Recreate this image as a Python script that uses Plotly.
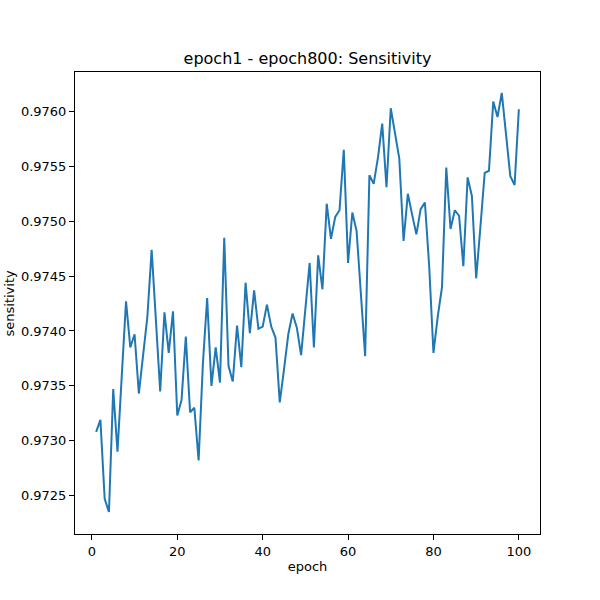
import plotly.graph_objects as go

# sensitivity per epoch
epochs = list(range(1, 101))
sensitivity = [
    0.97308, 0.97319, 0.97247, 0.97235, 0.97347, 0.97290, 0.97359, 0.97427, 0.97385, 0.97397,
    0.97343, 0.97377, 0.97413, 0.97474, 0.97412, 0.97345, 0.97417, 0.97380, 0.97418, 0.97323,
    0.97337, 0.97395, 0.97326, 0.97330, 0.97282, 0.97370, 0.97430, 0.97350, 0.97385, 0.97353,
    0.97485, 0.97368, 0.97354, 0.97405, 0.97367, 0.97444, 0.97398, 0.97437, 0.97402, 0.97404,
    0.97424, 0.97404, 0.97394, 0.97335, 0.97365, 0.97397, 0.97416, 0.97403, 0.97378, 0.97422,
    0.97462, 0.97385, 0.97469, 0.97438, 0.97516, 0.97484, 0.97504, 0.97510, 0.97565, 0.97462,
    0.97508, 0.97491, 0.97432, 0.97377, 0.97542, 0.97534, 0.97558, 0.97589, 0.97531, 0.97603,
    0.97580, 0.97557, 0.97482, 0.97525, 0.97506, 0.97488, 0.97511, 0.97517, 0.97459, 0.97380,
    0.97413, 0.97440, 0.97549, 0.97493, 0.97510, 0.97505, 0.97459, 0.97540, 0.97523, 0.97448,
    0.97495, 0.97544, 0.97546, 0.97609, 0.97595, 0.97617, 0.97579, 0.97541, 0.97533, 0.97602,
]

x_ticks = [0, 20, 40, 60, 80, 100]
y_ticks = [0.9725, 0.9730, 0.9735, 0.9740, 0.9745, 0.9750, 0.9755, 0.9760]

fig = go.Figure()
fig.add_trace(go.Scatter(
    x=epochs,
    y=sensitivity,
    mode='lines',
    line=dict(color='#1f77b4', width=2),
))

axis_style = dict(
    showline=True,
    linecolor='black',
    linewidth=1,
    mirror=True,
    ticks='outside',
    ticklen=5,
    tickwidth=1,
    tickcolor='black',
    showgrid=False,
    zeroline=False,
    automargin=False,
    tickfont=dict(size=13, color='black'),
)

fig.update_layout(
    width=600,
    height=600,
    margin=dict(l=75, r=60, t=72, b=66),
    paper_bgcolor='white',
    plot_bgcolor='white',
    font=dict(family='DejaVu Sans', color='black'),
    showlegend=False,
    title=dict(
        text='epoch1 - epoch800: Sensitivity',
        x=0.5, xref='paper', xanchor='center',
        y=1, yref='paper', yanchor='bottom',
        pad=dict(b=8),
        automargin=False,
        font=dict(size=16, color='black'),
    ),
    xaxis=dict(
        axis_style,
        range=[-3.95, 104.95],
        tickvals=x_ticks,
        title=dict(text='epoch', font=dict(size=13), standoff=4),
    ),
    yaxis=dict(
        axis_style,
        range=[0.97215, 0.97636],
        tickvals=y_ticks,
        tickformat='.4f',
    ),
)

# y axis label sits right at the page edge, so place it as an annotation
fig.add_annotation(
    text='sensitivity',
    xref='paper', yref='paper',
    x=-0.143, y=0.5,
    xanchor='center', yanchor='middle',
    textangle=-90,
    showarrow=False,
    font=dict(size=13, color='black'),
)

# drop the browser's default body margin so the figure fills the window
fig.write_html(
    "out.html",
    config={'displayModeBar': False},
    post_script="document.body.style.margin='0';",
)
